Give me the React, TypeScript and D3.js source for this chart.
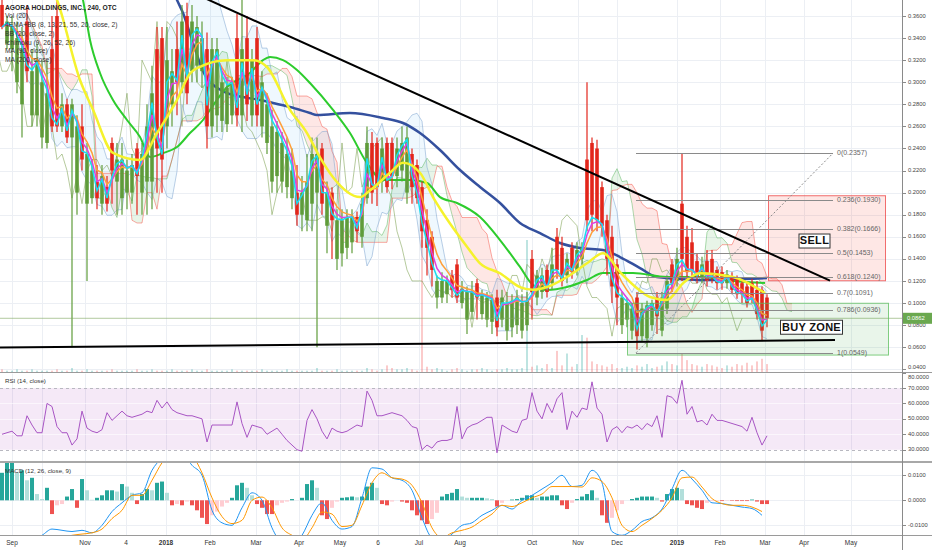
import { useEffect, useRef } from "react";
import * as d3 from "d3";

const WIDTH = 932;
const HEIGHT = 550;
// one candle here stands for about 5 of the original 240-minute bars
const BARS_PER_CANDLE = 5;

const opens = [
  0.37, 0.335, 0.33, 0.3, 0.28, 0.355, 0.27, 0.27, 0.25, 0.245,
  0.33, 0.36, 0.26, 0.28, 0.25, 0.2, 0.26, 0.19, 0.195, 0.21,
  0.19, 0.205, 0.245, 0.21, 0.195, 0.2, 0.2, 0.24, 0.2, 0.21,
  0.21, 0.33, 0.34, 0.26, 0.28, 0.33, 0.3, 0.36, 0.31, 0.315,
  0.31, 0.33, 0.26, 0.27, 0.265, 0.262, 0.27, 0.34, 0.27, 0.34,
  0.27, 0.34, 0.26, 0.245, 0.21, 0.215, 0.21, 0.205, 0.195, 0.2,
  0.18, 0.175, 0.19, 0.2, 0.24, 0.17, 0.2, 0.14, 0.145, 0.15,
  0.155, 0.178, 0.16, 0.195, 0.245, 0.245, 0.21, 0.245, 0.245, 0.215,
  0.22, 0.2, 0.235, 0.225, 0.205, 0.175, 0.16, 0.105, 0.105, 0.108,
  0.125, 0.135, 0.1, 0.085, 0.092, 0.118, 0.09, 0.085, 0.083, 0.105,
  0.085, 0.075, 0.078, 0.08, 0.075, 0.08, 0.14, 0.105, 0.11, 0.13,
  0.118, 0.16, 0.15, 0.125, 0.15, 0.13, 0.14, 0.23, 0.245, 0.24,
  0.205, 0.175, 0.16, 0.135, 0.08, 0.085, 0.075, 0.105, 0.07, 0.068,
  0.08, 0.105, 0.075, 0.095, 0.135, 0.12, 0.19, 0.16, 0.155, 0.138,
  0.124, 0.138, 0.14, 0.13, 0.128, 0.118, 0.124, 0.122, 0.118, 0.115,
  0.118, 0.112, 0.112, 0.105,
];
const highs = [
  0.375, 0.36, 0.36, 0.355, 0.35, 0.37, 0.33, 0.335, 0.32, 0.32,
  0.36, 0.375, 0.29, 0.285, 0.285, 0.27, 0.28, 0.245, 0.23, 0.225,
  0.225, 0.215, 0.25, 0.245, 0.245, 0.23, 0.235, 0.245, 0.245, 0.28,
  0.315, 0.35, 0.35, 0.35, 0.33, 0.355, 0.37, 0.372, 0.37, 0.36,
  0.355, 0.345, 0.34, 0.34, 0.31, 0.305, 0.305, 0.362, 0.375, 0.36,
  0.33, 0.35, 0.31, 0.29, 0.275, 0.265, 0.255, 0.25, 0.24, 0.225,
  0.215, 0.235, 0.25, 0.25, 0.245, 0.21, 0.205, 0.185, 0.185, 0.185,
  0.185, 0.183, 0.2, 0.26, 0.255, 0.25, 0.25, 0.25, 0.25, 0.25,
  0.26, 0.26, 0.24, 0.23, 0.21, 0.185, 0.165, 0.125, 0.128, 0.125,
  0.13, 0.14, 0.12, 0.115, 0.12, 0.122, 0.112, 0.11, 0.108, 0.112,
  0.112, 0.11, 0.108, 0.112, 0.108, 0.11, 0.148, 0.13, 0.132, 0.135,
  0.15, 0.168, 0.16, 0.145, 0.155, 0.155, 0.155, 0.3, 0.25, 0.248,
  0.21, 0.18, 0.17, 0.14, 0.11, 0.105, 0.1, 0.11, 0.1, 0.102,
  0.103, 0.11, 0.11, 0.125, 0.14, 0.15, 0.2357, 0.17, 0.168, 0.145,
  0.142, 0.148, 0.148, 0.133, 0.133, 0.13, 0.128, 0.125, 0.122, 0.12,
  0.122, 0.12, 0.115, 0.108,
];
const lows = [
  0.348, 0.33, 0.31, 0.29, 0.25, 0.3, 0.26, 0.26, 0.24, 0.24,
  0.255, 0.255, 0.255, 0.245, 0.06, 0.18, 0.22, 0.12, 0.19, 0.185,
  0.18, 0.183, 0.19, 0.18, 0.18, 0.185, 0.19, 0.18, 0.18, 0.18,
  0.185, 0.2, 0.2, 0.24, 0.26, 0.27, 0.29, 0.28, 0.3, 0.3,
  0.295, 0.24, 0.25, 0.255, 0.255, 0.255, 0.262, 0.26, 0.255, 0.265,
  0.26, 0.26, 0.25, 0.235, 0.2, 0.2, 0.2, 0.195, 0.185, 0.17,
  0.165, 0.165, 0.165, 0.06, 0.18, 0.145, 0.14, 0.13, 0.133, 0.14,
  0.145, 0.155, 0.15, 0.19, 0.19, 0.188, 0.2, 0.2, 0.203, 0.205,
  0.21, 0.19, 0.19, 0.19, 0.15, 0.125, 0.115, 0.095, 0.1, 0.1,
  0.105, 0.1, 0.095, 0.072, 0.085, 0.085, 0.085, 0.078, 0.072, 0.07,
  0.078, 0.066, 0.069, 0.072, 0.068, 0.075, 0.085, 0.098, 0.104, 0.105,
  0.112, 0.122, 0.115, 0.118, 0.122, 0.125, 0.135, 0.165, 0.165, 0.165,
  0.16, 0.125, 0.1, 0.08, 0.072, 0.078, 0.067, 0.058, 0.065, 0.06,
  0.075, 0.072, 0.07, 0.09, 0.11, 0.115, 0.12, 0.12, 0.12, 0.118,
  0.118, 0.115, 0.118, 0.112, 0.112, 0.113, 0.108, 0.104, 0.1, 0.096,
  0.1, 0.085, 0.066, 0.078,
];
const closes = [
  0.35, 0.355, 0.35, 0.34, 0.33, 0.31, 0.31, 0.32, 0.3, 0.29,
  0.26, 0.26, 0.28, 0.25, 0.28, 0.26, 0.23, 0.235, 0.22, 0.195,
  0.215, 0.19, 0.22, 0.23, 0.23, 0.22, 0.225, 0.215, 0.235, 0.26,
  0.29, 0.24, 0.23, 0.32, 0.31, 0.3, 0.355, 0.29, 0.355, 0.35,
  0.34, 0.26, 0.33, 0.33, 0.3, 0.295, 0.3, 0.27, 0.33, 0.28,
  0.32, 0.27, 0.3, 0.28, 0.26, 0.255, 0.245, 0.235, 0.22, 0.18,
  0.2, 0.21, 0.235, 0.235, 0.19, 0.2, 0.175, 0.175, 0.175, 0.178,
  0.178, 0.165, 0.19, 0.245, 0.2, 0.205, 0.24, 0.205, 0.215, 0.24,
  0.245, 0.25, 0.205, 0.195, 0.165, 0.15, 0.13, 0.12, 0.12, 0.12,
  0.112, 0.105, 0.113, 0.11, 0.11, 0.105, 0.108, 0.105, 0.103, 0.078,
  0.105, 0.1, 0.102, 0.105, 0.1, 0.102, 0.11, 0.125, 0.125, 0.11,
  0.135, 0.13, 0.12, 0.14, 0.128, 0.148, 0.15, 0.175, 0.18, 0.175,
  0.17, 0.14, 0.115, 0.105, 0.105, 0.1, 0.095, 0.07, 0.095, 0.098,
  0.1, 0.088, 0.105, 0.12, 0.118, 0.14, 0.14, 0.128, 0.13, 0.123,
  0.135, 0.12, 0.125, 0.118, 0.118, 0.126, 0.112, 0.108, 0.108, 0.1,
  0.105, 0.09, 0.075, 0.0862,
];
const volumes = [
  2, 1, 1, 2, 1, 1, 2, 1, 1, 1,
  1, 2, 1, 1, 3, 1, 1, 2, 1, 1,
  1, 1, 2, 1, 1, 1, 1, 2, 1, 1,
  2, 1, 1, 1, 2, 1, 1, 1, 2, 1,
  1, 2, 1, 1, 1, 1, 2, 1, 1, 1,
  1, 1, 2, 1, 1, 1, 1, 2, 1, 1,
  1, 1, 1, 3, 1, 1, 1, 2, 1, 1,
  1, 1, 1, 3, 2, 1, 2, 5, 3, 2,
  2, 3, 2, 1, 100, 4, 2, 3, 2, 1,
  2, 3, 2, 1, 2, 2, 3, 2, 1, 2,
  2, 3, 2, 2, 3, 100, 4, 5, 3, 6,
  3, 16, 5, 14, 4, 6, 28, 26, 8, 6,
  5, 4, 6, 3, 3, 4, 3, 5, 4, 6,
  3, 4, 5, 8, 6, 5, 14, 9, 6, 5,
  4, 6, 5, 4, 3, 5, 4, 6, 5, 7,
  5, 8, 10, 6,
];

// long averages: [bar, price]
const ema55Pts: [number, number][] = [
  [8.6, 0.397], [11, 0.3745], [15.6, 0.302], [18.2, 0.275], [22.2, 0.236], [27.6, 0.2296],
  [31, 0.254], [35, 0.284], [37.6, 0.308], [39.6, 0.314], [45, 0.32], [50.2, 0.32],
  [53, 0.3138], [57.6, 0.275], [61, 0.254], [63.6, 0.232], [66.2, 0.214], [71.6, 0.196],
  [73.6, 0.202], [77.6, 0.218], [80.2, 0.227], [83.6, 0.218], [86.2, 0.196], [89.6, 0.172],
  [93, 0.151], [95.6, 0.136], [99.6, 0.127], [103.6, 0.1145], [106.2, 0.112], [109, 0.1145],
  [113, 0.1236], [117, 0.136], [120.2, 0.145], [123.6, 0.128], [126.6, 0.115], [129.6, 0.1055],
  [133, 0.1028], [136.2, 0.118], [139.6, 0.127], [146.2, 0.1236], [152.6, 0.109],
];
const ma90Pts: [number, number][] = [
  [14.6, 0.4017], [16.2, 0.3745], [17.6, 0.3383], [19.6, 0.3084], [22.2, 0.2839], [25, 0.2658],
  [27.6, 0.2504], [29.6, 0.2323], [32.2, 0.2359], [35, 0.2413], [37.6, 0.254], [40.2, 0.2658],
  [41.6, 0.2749], [45, 0.2957], [49.6, 0.3084], [52.2, 0.3201], [53.6, 0.3229], [56.2, 0.3201],
  [59, 0.3111], [61.6, 0.2993], [66.2, 0.2749], [69.6, 0.254], [73, 0.2268], [76.2, 0.2114],
  [81.6, 0.2114], [85, 0.2087], [87.6, 0.196], [91, 0.1906], [95.6, 0.1779], [99.6, 0.1571],
  [103.6, 0.1327], [106.2, 0.1163], [109, 0.1118], [113, 0.1145], [117, 0.1209], [120.2, 0.1272],
  [126.2, 0.1272], [133, 0.1236], [139.6, 0.1236], [146.2, 0.12], [152.6, 0.1182],
];
const ma200Pts: [number, number][] = [
  [32.6, 0.4017], [35, 0.3745], [36.2, 0.3627], [38.2, 0.3355], [40.6, 0.3065], [45, 0.2903],
  [48.2, 0.2866], [51.6, 0.2839], [54.2, 0.2812], [57.6, 0.2776], [61.6, 0.2721], [63, 0.2703],
  [69.6, 0.2721], [76.2, 0.2676], [80.2, 0.2631], [83.6, 0.254], [87.6, 0.2386], [91.6, 0.2205],
  [95.6, 0.2051], [99.6, 0.1906], [103.6, 0.1725], [107.6, 0.1634], [111.6, 0.1544], [115.6, 0.1499],
  [120.2, 0.1481], [123.6, 0.1417], [127.6, 0.1317], [131, 0.1236], [139.6, 0.1209], [153, 0.1227],
];

const rsiValues = [
  40, 41, 42, 39, 39, 52, 46, 41, 41, 60,
  58, 45, 41, 41, 33, 37, 55, 44, 42, 41,
  43, 54, 49, 52, 55, 52, 51, 52, 53, 55,
  54, 62, 57, 61, 56, 54, 53, 52, 52, 51,
  50, 35, 46, 46, 46, 46, 46, 61, 47, 38,
  46, 45, 44, 40, 42, 44, 40, 36, 33, 30,
  29, 49, 56, 50, 42, 37, 44, 42, 41, 42,
  44, 46, 45, 68, 62, 52, 52, 53, 54, 53,
  52, 49, 45, 44, 30, 33, 31, 35, 36, 36,
  37, 58, 37, 44, 46, 47, 49, 51, 51, 28,
  46, 44, 42, 41, 49, 50, 67, 55, 50, 60,
  54, 63, 67, 43, 55, 51, 57, 56, 74, 57,
  53, 35, 43, 45, 41, 45, 44, 46, 43, 47,
  45, 52, 38, 65, 64, 60, 75, 53, 58, 48,
  49, 46, 53, 49, 49, 48, 47, 46, 45, 42,
  51, 41, 33, 39,
];

// MACD in units of 0.0001; lines are read every second bar
const macdHist = [
  110, 150, 160, 110, 120, 80, 90, 25, 5, 50,
  -55, -20, -15, 15, 45, -30, 85, 40, 2, 10,
  20, 40, 40, 35, 65, 55, 30, -15, 25, 45,
  40, 70, 75, 30, -20, -15, -20, -5, -20, -40,
  -70, -95, -60, -45, -25, -10, 10, 60, 70, 50,
  20, -15, -30, -55, -55, -20, -10, -5, 5, 0,
  10, 65, 80, 50, -60, -75, -30, -5, 10, 12,
  15, 12, 15, 55, 70, 50, -15, -20, -5, 0,
  -5, -10, -40, -60, -80, -95, -75, -50, 15, 25,
  30, 45, 15, 10, 10, 10, 10, 8, 5, -25,
  -10, 0, 3, 5, 10, 20, 20, 10, 15, 15,
  20, 20, -20, -35, -10, 5, 15, 25, 40, 10,
  -60, -90, -70, -40, -15, 0, 5, 10, 15, 15,
  15, 10, -5, 25, 45, 50, 45, -15, -20, -30,
  -35, -10, -3, -2, -3, -2, -2, -3, -3, -3,
  3, -5, -15, -15,
];
const macdLine = [
  -200, -190, -175, -160, -140, -115, -120, -125, -120, -130,
  -100, -45, -10, 20, 30, 120, 170, 200, 190, 140,
  100, -40, -90, -100, -30, 30, 0, -110, -170, -180,
  -140, -60, -10, -80, -115, -105, 10, 130, 125, 90,
  80, 40, -70, -150, -160, -135, -100, -90, -60, -40,
  -20, -35, 0, 20, 45, 70, 100, 55, 60, 120,
  70, -125, -140, -120, -85, -70, -35, 45, 120, 85,
  40, -10, -13, -20, -27, -33, -60,
];
const signalLine = [
  -200, -200, -195, -185, -175, -160, -150, -140, -135, -130,
  -115, -73, -40, 20, 20, 80, 150, 190, 200, 180,
  110, 10, -65, -93, -80, 0, 13, -30, -110, -140,
  -160, -110, -47, -55, -105, -100, -20, 70, 110, 90,
  85, 60, -10, -110, -150, -130, -120, -107, -80, -55,
  -20, -25, -10, 10, 25, 55, 55, 55, 53, 90,
  75, 10, -100, -125, -100, -73, -40, 10, 90, 93,
  53, 7, -13, -20, -20, -27, -45,
];

const priceTicks = [0.04, 0.06, 0.08, 0.1, 0.12, 0.14, 0.16, 0.18, 0.2, 0.22, 0.24, 0.26, 0.28, 0.3, 0.32, 0.34, 0.36];
const rsiTicks = [30, 40, 50, 60, 70, 80];
const macdTicks = [-0.01, 0, 0.01];
const timeLabels = ["Sep", "", "Nov", "4", "2018", "Feb", "Mar", "Apr", "May", "6", "Jul", "Aug", "", "Oct", "Nov", "Dec", "2019", "Feb", "Mar", "Apr", "May"];
const timeBars = [2, 8, 16.6, 24.8, 32.8, 41.6, 50.8, 59.4, 67.6, 75.2, 83.4, 91.6, 99, 106, 115.2, 123, 135, 143.6, 152.6, 160.4, 169.8];

const legendLines = [
  "AGORA HOLDINGS, INC., 240, OTC",
  "Vol (20)",
  "4EMA+BB (8, 13, 21, 55, 20, close, 2)",
  "BB (20, close, 2)",
  "Ichimoku (9, 26, 52, 26)",
  "MA (90, close)",
  "MA (200, close)",
];

// drawings
const fibLevels = [0, 0.236, 0.382, 0.5, 0.618, 0.7, 0.786, 1];
const fibStart: [number, number] = [126.8, 0.0549];
const fibEnd: [number, number] = [166.2, 0.2357];
const resistanceLine: [number, number][] = [[36, 0.3855], [165.6, 0.1203]];
const supportLine: [number, number][] = [[-1, 0.0597], [166.6, 0.0665]];
const sellZone = [153.3, 176.7, 0.1202, 0.1972];
const buyZone = [125.1, 177.3, 0.0529, 0.0998];
const zoneLabels = ["SELL", "BUY ZONE"];
const zoneLabelBars = [162.5, 161.9];
const zoneLabelPrices = [0.1562, 0.0781];
const lastPrice = 0.0862;

function ema(src: number[], period: number): number[] {
  const k = 2 / (period + 1);
  const out: number[] = [];
  src.forEach((v, i) => out.push(i === 0 ? v : out[i - 1] + k * (v - out[i - 1])));
  return out;
}

function midRange(i: number, len: number): number {
  const s = Math.max(0, i - len + 1);
  return ((d3.max(highs.slice(s, i + 1)) ?? 0) + (d3.min(lows.slice(s, i + 1)) ?? 0)) / 2;
}

export default function App() {
  const svgRef = useRef<SVGSVGElement>(null);

  useEffect(() => {
    document.body.style.margin = "0";
    if (!svgRef.current) return;
    const svg = d3.select(svgRef.current);
    svg.selectAll("*").remove();

    const font = "'Liberation Sans', Arial, sans-serif";
    const plotRight = 902;
    const n = closes.length;

    const x = d3.scaleLinear().domain([0, 180]).range([2, plotRight]);
    const y = d3.scaleLinear().domain([0.04, 0.36]).range([369.3, 16]);
    const yVol = d3.scaleLinear().domain([0, 100]).range([372, 240]);
    const yRsi = d3.scaleLinear().domain([30, 70]).range([449.7, 388]);
    const yMacd = d3.scaleLinear().domain([-0.01, 0.01]).range([525.3, 475.3]);

    svg.append("rect").attr("width", WIDTH).attr("height", HEIGHT).attr("fill", "#fff");

    const defs = svg.append("defs");
    const addClip = (id: string, y0: number, h: number) =>
      defs.append("clipPath").attr("id", id).append("rect")
        .attr("x", 0).attr("y", y0).attr("width", plotRight).attr("height", h);
    addClip("clip-main", 0, 372);
    addClip("clip-rsi", 373, 89);
    addClip("clip-macd", 463, 72);

    // grid
    const grid = svg.append("g").attr("stroke", "#eceff4").attr("stroke-width", 1);
    timeBars.forEach((b) => {
      const gx = Math.round(x(b)) + 0.5;
      grid.append("line").attr("x1", gx).attr("x2", gx).attr("y1", 0).attr("y2", 535);
    });
    priceTicks.forEach((p) => {
      const gy = Math.round(y(p)) + 0.5;
      grid.append("line").attr("x1", 0).attr("x2", plotRight).attr("y1", gy).attr("y2", gy);
    });
    macdTicks.forEach((v) => {
      const gy = Math.round(yMacd(v)) + 0.5;
      grid.append("line").attr("x1", 0).attr("x2", plotRight).attr("y1", gy).attr("y2", gy);
    });

    const main = svg.append("g").attr("clip-path", "url(#clip-main)");

    // volume
    main.append("g").selectAll("rect").data(volumes).join("rect")
      .attr("x", (_, i) => x(i) - 0.75)
      .attr("width", 1.5)
      .attr("y", (v) => yVol(v))
      .attr("height", (v) => yVol(0) - yVol(v))
      .attr("fill", (_, i) => (closes[i] >= opens[i] ? "#26a69a" : "#ef5350"))
      .attr("opacity", 0.4);

    // Ichimoku, periods scaled to the candle size
    const convLen = Math.max(1, Math.round(9 / BARS_PER_CANDLE));
    const baseLen = Math.round(26 / BARS_PER_CANDLE);
    const spanBLen = Math.round(52 / BARS_PER_CANDLE);
    const disp = Math.round(26 / BARS_PER_CANDLE);
    const tenkan = closes.map((_, i) => midRange(i, convLen));
    const kijun = closes.map((_, i) => midRange(i, baseLen));
    const spanA = closes.map((_, i) => (tenkan[i] + kijun[i]) / 2);
    const spanB = closes.map((_, i) => midRange(i, spanBLen));
    const cloud = main.append("g");
    for (let i = 0; i < n - 1; i++) {
      const bull = spanA[i] + spanA[i + 1] >= spanB[i] + spanB[i + 1];
      const p = d3.path();
      p.moveTo(x(i + disp), y(spanA[i]));
      p.lineTo(x(i + 1 + disp), y(spanA[i + 1]));
      p.lineTo(x(i + 1 + disp), y(spanB[i + 1]));
      p.lineTo(x(i + disp), y(spanB[i]));
      p.closePath();
      cloud.append("path").attr("d", p.toString())
        .attr("fill", bull ? "rgba(76,175,80,0.13)" : "rgba(244,67,54,0.13)");
    }

    // Bollinger bands
    const bbLen = Math.round(20 / BARS_PER_CANDLE);
    const bb = closes.map((_, i) => {
      const w = closes.slice(Math.max(0, i - bbLen + 1), i + 1);
      const m = d3.mean(w) ?? 0;
      const sd = Math.sqrt(d3.mean(w, (v) => (v - m) ** 2) ?? 0);
      return { i, up: m + 2 * sd, lo: m - 2 * sd };
    }).filter((d) => d.i >= bbLen - 1);
    main.append("path").datum(bb)
      .attr("d", d3.area<{ i: number; up: number; lo: number }>()
        .x((d) => x(d.i)).y0((d) => y(d.lo)).y1((d) => y(d.up)))
      .attr("fill", "rgba(33,150,243,0.07)");

    const lineFrom = (vals: number[], offset: number) =>
      d3.line<number>().x((_, i) => x(i + offset)).y((v) => y(v))(vals) ?? "";
    main.append("path").attr("d", lineFrom(spanA, disp)).attr("fill", "none")
      .attr("stroke", "rgba(76,175,80,0.45)").attr("stroke-width", 1);
    main.append("path").attr("d", lineFrom(spanB, disp)).attr("fill", "none")
      .attr("stroke", "rgba(244,67,54,0.45)").attr("stroke-width", 1);
    main.append("path").attr("d", lineFrom(closes, -disp)).attr("fill", "none")
      .attr("stroke", "rgba(110,150,60,0.5)").attr("stroke-width", 1);
    ["up", "lo"].forEach((k) => {
      main.append("path").datum(bb)
        .attr("d", d3.line<{ i: number; up: number; lo: number }>()
          .x((d) => x(d.i)).y((d) => y(k === "up" ? d.up : d.lo)))
        .attr("fill", "none").attr("stroke", "rgba(120,160,205,0.5)").attr("stroke-width", 1);
    });

    // long moving averages
    const ptsLine = d3.line<[number, number]>().x((d) => x(d[0])).y((d) => y(d[1])).curve(d3.curveMonotoneX);
    main.append("path").attr("d", ptsLine(ma200Pts) ?? "").attr("fill", "none")
      .attr("stroke", "#34509e").attr("stroke-width", 2.5);
    main.append("path").attr("d", ptsLine(ma90Pts) ?? "").attr("fill", "none")
      .attr("stroke", "#2dcc2d").attr("stroke-width", 2);

    // candles
    const candles = main.append("g");
    const colorOf = (i: number) => (closes[i] >= opens[i] ? "#5f9c3a" : "#e3261b");
    candles.selectAll("line").data(closes).join("line")
      .attr("x1", (_, i) => x(i)).attr("x2", (_, i) => x(i))
      .attr("y1", (c, i) => y(Math.max(highs[i], opens[i], c)))
      .attr("y2", (c, i) => y(Math.min(lows[i], opens[i], c)))
      .attr("stroke", (_, i) => colorOf(i)).attr("stroke-width", 1.2);
    candles.selectAll("rect").data(closes).join("rect")
      .attr("x", (_, i) => x(i) - 1.8).attr("width", 3.6)
      .attr("y", (c, i) => y(Math.max(opens[i], c)))
      .attr("height", (c, i) => Math.max(1, y(Math.min(opens[i], c)) - y(Math.max(opens[i], c))))
      .attr("fill", (_, i) => colorOf(i));

    // EMA ribbon
    const emaSpecs: [number, string][] = [[21, "#ff9f3a"], [13, "#e03ee0"], [8, "#19dcef"]];
    emaSpecs.forEach(([p, color]) => {
      main.append("path").attr("d", lineFrom(ema(closes, p / BARS_PER_CANDLE), 0))
        .attr("fill", "none").attr("stroke", color).attr("stroke-width", 1.5);
    });
    main.append("path").attr("d", ptsLine(ema55Pts) ?? "").attr("fill", "none")
      .attr("stroke", "#f5f22c").attr("stroke-width", 2.5);

    // last price line
    main.append("line").attr("x1", 0).attr("x2", plotRight)
      .attr("y1", y(lastPrice)).attr("y2", y(lastPrice))
      .attr("stroke", "#7fa860").attr("stroke-width", 1).attr("opacity", 0.6);

    // zones
    const zone = (z: number[], fill: string, stroke: string) =>
      main.append("rect")
        .attr("x", x(z[0])).attr("width", x(z[1]) - x(z[0]))
        .attr("y", y(z[3])).attr("height", y(z[2]) - y(z[3]))
        .attr("fill", fill).attr("stroke", stroke).attr("stroke-width", 1);
    zone(sellZone, "rgba(244,67,54,0.13)", "rgba(236,64,64,0.75)");
    zone(buyZone, "rgba(76,175,80,0.12)", "rgba(90,190,90,0.75)");

    // fib retracement
    const fibG = main.append("g");
    fibLevels.forEach((lv) => {
      const price = fibEnd[1] - lv * (fibEnd[1] - fibStart[1]);
      const fy = Math.round(y(price)) + 0.5;
      fibG.append("line").attr("x1", x(fibStart[0])).attr("x2", x(fibEnd[0]))
        .attr("y1", fy).attr("y2", fy).attr("stroke", "#8a8a8a").attr("stroke-width", 1);
      fibG.append("text").attr("x", x(fibEnd[0]) + 4).attr("y", fy)
        .attr("dominant-baseline", "middle").attr("font-family", font).attr("font-size", 7)
        .attr("fill", "#666").text(`${lv}(${price.toFixed(4)})`);
    });
    fibG.append("line")
      .attr("x1", x(fibStart[0])).attr("y1", y(fibStart[1]))
      .attr("x2", x(fibEnd[0])).attr("y2", y(fibEnd[1]))
      .attr("stroke", "#8a8a8a").attr("stroke-width", 1).attr("stroke-dasharray", "2,2");

    // trend lines
    [resistanceLine, supportLine].forEach((l) => {
      main.append("line")
        .attr("x1", x(l[0][0])).attr("y1", y(l[0][1]))
        .attr("x2", x(l[1][0])).attr("y2", y(l[1][1]))
        .attr("stroke", "#000").attr("stroke-width", 2);
    });

    // zone labels
    zoneLabels.forEach((t, i) => {
      const cx = x(zoneLabelBars[i]);
      const cy = y(zoneLabelPrices[i]);
      const w = t.length > 4 ? 62 : 31;
      main.append("rect").attr("x", cx - w / 2).attr("y", cy - 7).attr("width", w).attr("height", 14)
        .attr("fill", "#fff").attr("stroke", "#333").attr("stroke-width", 1);
      main.append("text").attr("x", cx).attr("y", cy + 0.5)
        .attr("text-anchor", "middle").attr("dominant-baseline", "middle")
        .attr("font-family", font).attr("font-size", 11).attr("font-weight", "bold")
        .attr("letter-spacing", 0.3).attr("fill", "#111").text(t);
    });

    // legend
    legendLines.forEach((t, i) => {
      svg.append("text").attr("x", 5).attr("y", 8 + i * 8.7)
        .attr("dominant-baseline", "middle").attr("font-family", font)
        .attr("font-size", 6.7).attr("font-weight", i === 0 ? "bold" : "normal")
        .attr("fill", i === 0 ? "#222" : "#333").text(t);
    });

    // RSI panel
    const rsi = svg.append("g").attr("clip-path", "url(#clip-rsi)");
    rsi.append("rect").attr("x", 0).attr("width", plotRight)
      .attr("y", yRsi(70)).attr("height", yRsi(30) - yRsi(70))
      .attr("fill", "rgba(156,39,176,0.1)");
    rsiTicks.forEach((v) => {
      const gy = Math.round(yRsi(v)) + 0.5;
      const band = v === 30 || v === 70;
      rsi.append("line").attr("x1", 0).attr("x2", plotRight).attr("y1", gy).attr("y2", gy)
        .attr("stroke", band ? "#b8b8c0" : "rgba(255,255,255,0.6)")
        .attr("stroke-dasharray", band ? "3,3" : null);
    });
    rsi.append("path")
      .attr("d", d3.line<number>().x((_, i) => x(i)).y((v) => yRsi(v))(rsiValues) ?? "")
      .attr("fill", "none").attr("stroke", "#a855c4").attr("stroke-width", 1);
    svg.append("text").attr("x", 5).attr("y", 381).attr("dominant-baseline", "middle")
      .attr("font-family", font).attr("font-size", 6.2).attr("fill", "#333").text("RSI (14, close)");

    // MACD panel
    const macd = svg.append("g").attr("clip-path", "url(#clip-macd)");
    macd.selectAll("rect").data(macdHist).join("rect")
      .attr("x", (_, i) => x(i) - 2).attr("width", 4)
      .attr("y", (v) => Math.min(yMacd(0), yMacd(v * 1e-4)))
      .attr("height", (v) => Math.abs(yMacd(v * 1e-4) - yMacd(0)))
      .attr("fill", (v, i) => {
        const prev = i > 0 ? macdHist[i - 1] : v;
        if (v >= 0) return v >= prev ? "#26a69a" : "#b2dfdb";
        return v <= prev ? "#ef5350" : "#ffcdd2";
      });
    const macdPath = (vals: number[]) =>
      d3.line<number>().x((_, k) => x(k * 2)).y((v) => yMacd(v * 1e-4)).curve(d3.curveMonotoneX)(vals) ?? "";
    macd.append("path").attr("d", macdPath(macdLine)).attr("fill", "none")
      .attr("stroke", "#2196f3").attr("stroke-width", 1);
    macd.append("path").attr("d", macdPath(signalLine)).attr("fill", "none")
      .attr("stroke", "#ff9800").attr("stroke-width", 1);
    svg.append("text").attr("x", 5).attr("y", 471).attr("dominant-baseline", "middle")
      .attr("font-family", font).attr("font-size", 6.2).attr("fill", "#333").text("MACD (12, 26, close, 9)");

    // separators and right axis
    svg.append("line").attr("x1", 0).attr("x2", WIDTH).attr("y1", 372.5).attr("y2", 372.5)
      .attr("stroke", "#9a9a9a");
    svg.append("line").attr("x1", 0).attr("x2", WIDTH).attr("y1", 462).attr("y2", 462)
      .attr("stroke", "#a8a8a8").attr("stroke-width", 2);
    svg.append("line").attr("x1", 0).attr("x2", WIDTH).attr("y1", 535.5).attr("y2", 535.5)
      .attr("stroke", "#9a9a9a");
    svg.append("line").attr("x1", plotRight + 0.5).attr("x2", plotRight + 0.5).attr("y1", 0).attr("y2", HEIGHT)
      .attr("stroke", "#8a8a8a");

    // labels at a panel edge are nudged inside so they stay readable
    const axisLabel = (yy: number, lo: number, hi: number, t: string) => {
      svg.append("line").attr("x1", plotRight).attr("x2", plotRight + 4)
        .attr("y1", Math.round(yy) + 0.5).attr("y2", Math.round(yy) + 0.5).attr("stroke", "#8a8a8a");
      svg.append("text").attr("x", plotRight + 6).attr("y", Math.min(hi, Math.max(lo, yy)))
        .attr("dominant-baseline", "middle")
        .attr("font-family", font).attr("font-size", 5.8).attr("fill", "#444").text(t);
    };
    priceTicks.forEach((p) => axisLabel(y(p), 4, 367, p.toFixed(4)));
    rsiTicks.forEach((v) => axisLabel(yRsi(v), 377, 458, v.toFixed(4)));
    macdTicks.forEach((v) => axisLabel(yMacd(v), 467, 531, v.toFixed(4)));

    // last price tag
    svg.append("rect").attr("x", plotRight + 1).attr("y", y(lastPrice) - 5.5)
      .attr("width", 29).attr("height", 11).attr("fill", "#6aa84f");
    svg.append("text").attr("x", plotRight + 5).attr("y", y(lastPrice) + 0.5)
      .attr("dominant-baseline", "middle").attr("font-family", font).attr("font-size", 5.8)
      .attr("fill", "#fff").text(lastPrice.toFixed(4));

    // time axis
    timeLabels.forEach((t, i) => {
      if (!t) return;
      svg.append("text").attr("x", x(timeBars[i])).attr("y", 543.5)
        .attr("text-anchor", "middle").attr("dominant-baseline", "middle")
        .attr("font-family", font).attr("font-size", 6.5)
        .attr("font-weight", /^\d{4}$/.test(t) ? "bold" : "normal")
        .attr("fill", "#333").text(t);
    });
  }, []);

  return <svg ref={svgRef} width={WIDTH} height={HEIGHT} style={{ display: "block" }} />;
}
